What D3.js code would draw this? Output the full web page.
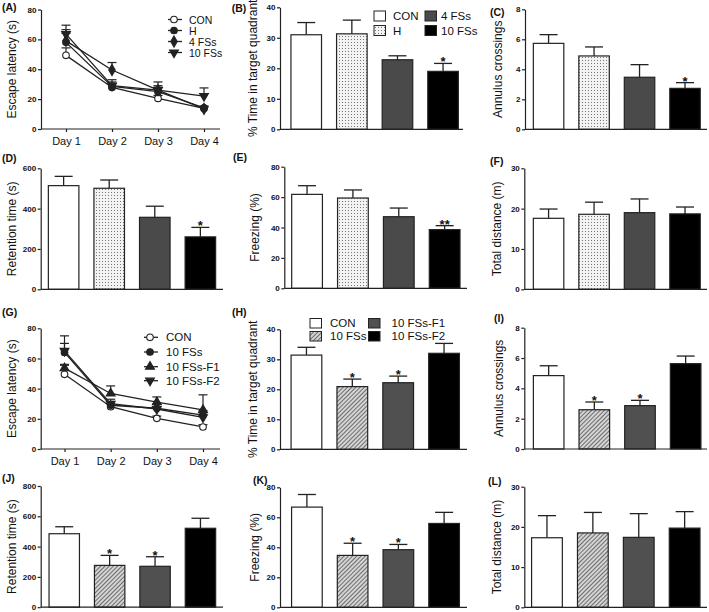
<!DOCTYPE html>
<html><head><meta charset="utf-8">
<script src="https://cdn.jsdelivr.net/npm/d3@7"></script>
<style>body{margin:0;background:#fff}svg{display:block;font-family:"Liberation Sans",Arial,sans-serif}</style>
</head><body><svg id="c" width="709" height="612"></svg>
<script>
// ---------- DATA ----------
const days = ["Day 1","Day 2","Day 3","Day 4"];
const groupsTop = ["CON","H","4 FSs","10 FSs"];
const groupsBot = ["CON","10 FSs","10 FSs-F1","10 FSs-F2"];

// (A) escape latency
const latA_CON = [49.3, 27.8, 20.5, 13.8], latA_CON_err = [5, 2.5, 2, 1.2];
const latA_H = [58, 28.5, 25, 14.2],       latA_H_err = [6, 3, 3, 1.2];
const latA_4FS = [59, 39.5, 26, 13.5],     latA_4FS_err = [7.5, 5, 5.5, 1.2];
const latA_10FS = [63.5, 29, 26, 22],      latA_10FS_err = [6, 4, 3, 5.5];
// (G) escape latency
const latG_CON = [49.5, 28, 20.3, 14.6],   latG_CON_err = [6, 2, 1.5, 1.5];
const latG_10FS = [64, 29, 27, 22.5],      latG_10FS_err = [6, 2.5, 3, 3];
const latG_F1 = [53.6, 36.8, 31, 25.9],    latG_F1_err = [2.5, 5, 3.5, 10];
const latG_F2 = [65, 30, 26.5, 21],        latG_F2_err = [10, 3, 3, 3];

// Bars, top group order: CON, H, 4 FSs, 10 FSs
const B_mean = [31, 31.3, 22.8, 19],     B_err = [4, 4.5, 1.3, 2.6],    B_sig = ["","","","*"];
const C_mean = [5.73, 4.89, 3.47, 2.73], C_err = [0.58, 0.6, 0.84, 0.38], C_sig = ["","","","*"];
const D_mean = [514, 501, 357, 260],     D_err = [46, 41, 55, 47],      D_sig = ["","","","*"];
const E_mean = [61.8, 59.4, 47.1, 38.6], E_err = [5.7, 5.3, 5.7, 2.6],  E_sig = ["","","","**"];
const F_mean = [17.6, 18.6, 19.0, 18.7], F_err = [2.3, 3.0, 3.4, 1.7],  F_sig = ["","","",""];
// Bars, bottom group order: CON, 10 FSs, 10 FSs-F1, 10 FSs-F2
const H_mean = [31.4, 20.9, 22.2, 32],   H_err = [2.6, 2.5, 2.2, 3.3],  H_sig = ["","*","*",""];
const I_mean = [4.84, 2.59, 2.86, 5.63], I_err = [0.65, 0.51, 0.35, 0.5], I_sig = ["","*","*",""];
const J_mean = [485, 276, 270, 521],     J_err = [46, 66, 63, 66],      J_sig = ["","*","*",""];
const K_mean = [66.8, 34.6, 38.4, 55.9], K_err = [8.4, 8.1, 3.5, 7.4],  K_sig = ["","*","*",""];
const L_mean = [17.3, 18.5, 17.4, 19.7], L_err = [5.5, 5.1, 5.9, 4.1],  L_sig = ["","","",""];

// ---------- STYLE ----------
const fillsTop = ["#ffffff","url(#dots)","#4a4a4a","#000000"];
const fillsBot = ["#ffffff","url(#hatch)","#505050","#000000"];
const INK = "#222";
const svg = d3.select("#c");
const defs = svg.append("defs");
const pd = defs.append("pattern").attr("id","dots").attr("patternUnits","userSpaceOnUse").attr("width",3).attr("height",3);
pd.append("rect").attr("width",3).attr("height",3).attr("fill","#f3f3f3");
pd.append("rect").attr("width",1).attr("height",1).attr("fill","#777");
const ph = defs.append("pattern").attr("id","hatch").attr("patternUnits","userSpaceOnUse").attr("width",3).attr("height",3).attr("patternTransform","rotate(45)");
ph.append("rect").attr("width",3).attr("height",3).attr("fill","#d4d4d4");
ph.append("line").attr("x1",0).attr("y1",0).attr("x2",0).attr("y2",3).attr("stroke","#4a4a4a").attr("stroke-width",1.5);

function yAxis(L, y){
  const g = svg.append("g").attr("transform",`translate(${L.ax},0)`)
    .call(d3.axisLeft(y).tickValues(L.ticks).tickSize(3).tickSizeOuter(0).tickPadding(1.5));
  g.selectAll("path,line").attr("stroke",INK).attr("stroke-width",1.2);
  g.selectAll("text").attr("font-size",8).attr("font-weight","bold").attr("fill","#111")
    .attr("font-family","Liberation Sans, Arial, sans-serif");
  svg.append("line").attr("x1",L.ax).attr("x2",L.axEnd).attr("y1",y(0)).attr("y2",y(0))
    .attr("stroke",INK).attr("stroke-width",1.2);
  const cy = (L.top+L.bot)/2;
  svg.append("text").attr("transform",`translate(${L.tx},${cy}) rotate(-90)`)
    .attr("text-anchor","middle").attr("dominant-baseline","central")
    .attr("font-size",12).attr("fill","#111").text(L.title);
  svg.append("text").attr("x",L.lx).attr("y",L.ly).attr("font-size",10.5)
    .attr("font-weight","bold").attr("fill","#111").text(L.label);
}

function barPanel(L, groups, means, errs, sigs, fills){
  const y = d3.scaleLinear().domain([0,L.max]).range([L.bot,L.top]);
  const x = d3.scaleBand().domain(groups).range(L.xr).paddingInner(0.33).paddingOuter(0.1);
  const g = svg.append("g");
  groups.forEach((k,i)=>{
    const cx = x(k)+x.bandwidth()/2;
    const capY = y(means[i]+errs[i]);
    g.append("line").attr("x1",cx).attr("x2",cx).attr("y1",y(means[i])).attr("y2",capY)
      .attr("stroke",INK).attr("stroke-width",1.3);
    g.append("line").attr("x1",cx-9).attr("x2",cx+9).attr("y1",capY).attr("y2",capY)
      .attr("stroke",INK).attr("stroke-width",1.3);
    g.append("rect").attr("x",x(k)).attr("y",y(means[i])).attr("width",x.bandwidth())
      .attr("height",y(0)-y(means[i])).attr("fill",fills[i]).attr("stroke",INK).attr("stroke-width",1.2);
    if(sigs[i]) g.append("text").attr("x",cx).attr("y",capY+3).attr("text-anchor","middle")
      .attr("font-size",13).attr("font-weight","bold").attr("fill","#111").text(sigs[i]);
  });
  yAxis(L,y);
}

function linePanel(L, series){
  const y = d3.scaleLinear().domain([0,L.max]).range([L.bot,L.top]);
  const x = d3.scalePoint().domain(days).range(L.xr);
  yAxis(L,y);
  const gx = svg.append("g").attr("transform",`translate(0,${L.bot})`)
    .call(d3.axisBottom(x).tickSize(3).tickSizeOuter(0).tickPadding(5));
  gx.select(".domain").remove();
  gx.selectAll("line").attr("stroke",INK).attr("stroke-width",1.2);
  gx.selectAll("text").attr("font-size",11).attr("fill","#111")
    .attr("font-family","Liberation Sans, Arial, sans-serif");
  const line = d3.line().x((d,i)=>x(days[i])).y(d=>y(d));
  series.forEach(s=>{
    svg.append("path").attr("d",line(s.v)).attr("fill","none").attr("stroke",INK).attr("stroke-width",1.3);
  });
  series.forEach(s=>{
    s.v.forEach((v,i)=>{
      const cx = x(days[i]), t = y(v+s.e[i]);
      svg.append("line").attr("x1",cx).attr("x2",cx).attr("y1",y(v)).attr("y2",t).attr("stroke",INK).attr("stroke-width",1.2);
      svg.append("line").attr("x1",cx-4.5).attr("x2",cx+4.5).attr("y1",t).attr("y2",t).attr("stroke",INK).attr("stroke-width",1.2);
    });
  });
  series.forEach(s=>{
    s.v.forEach((v,i)=>marker(s.m, x(days[i]), y(v)));
  });
  series.forEach((s,i)=>{
    const yy = L.legY[i];
    svg.append("line").attr("x1",L.legX).attr("x2",L.legX+14).attr("y1",yy).attr("y2",yy).attr("stroke",INK).attr("stroke-width",1.3);
    marker(s.m, L.legX+6, yy);
    svg.append("text").attr("x",L.legTX).attr("y",yy).attr("dominant-baseline","central")
      .attr("font-size",L.legFS).attr("fill","#111").text(s.name);
  });
}

function marker(type, cx, cy){
  let sym, rot=0, fill=INK;
  if(type==="open"){sym=d3.symbolCircle; fill="#fff";}
  else if(type==="circle") sym=d3.symbolCircle;
  else if(type==="diamond") sym=d3.symbolDiamond;
  else if(type==="tri") sym=d3.symbolTriangle;
  else {sym=d3.symbolTriangle; rot=180;}
  svg.append("path").attr("d",d3.symbol().type(sym).size(type==="diamond"?36:34)())
    .attr("transform",`translate(${cx},${cy}) rotate(${rot})`)
    .attr("fill",fill).attr("stroke",INK).attr("stroke-width",1.1);
}

function barLegend(items, fills, boxes, texts, bw, bh){
  items.forEach((k,i)=>{
    svg.append("rect").attr("x",boxes[i][0]).attr("y",boxes[i][1]).attr("width",bw).attr("height",bh)
      .attr("fill",fills[i]).attr("stroke",INK).attr("stroke-width",1);
    svg.append("text").attr("x",texts[i][0]).attr("y",boxes[i][1]+bh/2).attr("dominant-baseline","central")
      .attr("font-size",11.5).attr("fill","#111").text(k);
  });
}

// ---------- LAYOUT ----------
const LA = {ax:41, axEnd:220, top:9.5, bot:129, xr:[66,204], max:80, ticks:[0,20,40,60,80],
  title:"Escape latency (s)", tx:12.3, label:"(A)", lx:2, ly:11,
  legX:168, legTX:189, legY:[19.5,30.5,41.5,52.5], legFS:10.5};
const LG = {ax:40.7, axEnd:220, top:328.3, bot:449, xr:[64.5,203], max:80, ticks:[0,20,40,60,80],
  title:"Escape latency (s)", tx:12.3, label:"(G)", lx:2, ly:315.5,
  legX:144, legTX:166, legY:[337.3,352,366.7,380.7], legFS:11.5};
const LBp = {ax:280, axEnd:463, top:7.3, bot:129.3, xr:[286.4,462.9], max:40, ticks:[0,10,20,30,40],
  title:"% Time in target quadrant", tx:253.3, label:"(B)", lx:231.7, ly:12};
const LC = {ax:525, axEnd:707, top:9.3, bot:129.3, xr:[528.8,704.8], max:8, ticks:[0,2,4,6,8],
  title:"Annulus crossings", tx:498.3, label:"(C)", lx:490, ly:16};
const LD = {ax:40.7, axEnd:223, top:168.3, bot:289.3, xr:[43.8,220.2], max:600, ticks:[0,200,400,600],
  title:"Retention time (s)", tx:11.7, label:"(D)", lx:2, ly:162};
const LE = {ax:284.3, axEnd:467, top:166.7, bot:288.3, xr:[287.1,464.6], max:80, ticks:[0,20,40,60,80],
  title:"Freezing (%)", tx:255, label:"(E)", lx:233, ly:160.5};
const LF = {ax:524.3, axEnd:707, top:168.3, bot:289.3, xr:[528.8,704.8], max:30, ticks:[0,10,20,30],
  title:"Total distance (m)", tx:496.7, label:"(F)", lx:490, ly:165};
const LH = {ax:280, axEnd:467, top:329.3, bot:449.3, xr:[286.5,464], max:40, ticks:[0,10,20,30,40],
  title:"% Time in target quadrant", tx:253.3, label:"(H)", lx:232, ly:315.5};
const LI = {ax:524.3, axEnd:707, top:327.7, bot:449, xr:[528.8,705.5], max:8, ticks:[0,2,4,6,8],
  title:"Annulus crossings", tx:498.5, label:"(I)", lx:494, ly:322};
const LJ = {ax:40.7, axEnd:223, top:486, bot:607.2, xr:[44.5,220.2], max:800, ticks:[0,200,400,600,800],
  title:"Retention time (s)", tx:11.7, label:"(J)", lx:2, ly:481.5};
const LK = {ax:280, axEnd:467, top:487.3, bot:607.3, xr:[287,464], max:80, ticks:[0,20,40,60,80],
  title:"Freezing (%)", tx:255, label:"(K)", lx:253, ly:484};
const LL = {ax:524.3, axEnd:707, top:486.7, bot:607.3, xr:[527,704.6], max:30, ticks:[0,10,20,30],
  title:"Total distance (m)", tx:496.7, label:"(L)", lx:488, ly:485};

// ---------- DRAW ----------
linePanel(LA, [
  {name:"CON", v:latA_CON, e:latA_CON_err, m:"open"},
  {name:"H", v:latA_H, e:latA_H_err, m:"circle"},
  {name:"4 FSs", v:latA_4FS, e:latA_4FS_err, m:"diamond"},
  {name:"10 FSs", v:latA_10FS, e:latA_10FS_err, m:"tridown"}]);
linePanel(LG, [
  {name:"CON", v:latG_CON, e:latG_CON_err, m:"open"},
  {name:"10 FSs", v:latG_10FS, e:latG_10FS_err, m:"circle"},
  {name:"10 FSs-F1", v:latG_F1, e:latG_F1_err, m:"tri"},
  {name:"10 FSs-F2", v:latG_F2, e:latG_F2_err, m:"tridown"}]);

barPanel(LBp, groupsTop, B_mean, B_err, B_sig, fillsTop);
barPanel(LC, groupsTop, C_mean, C_err, C_sig, fillsTop);
barPanel(LD, groupsTop, D_mean, D_err, D_sig, fillsTop);
barPanel(LE, groupsTop, E_mean, E_err, E_sig, fillsTop);
barPanel(LF, groupsTop, F_mean, F_err, F_sig, fillsTop);
barPanel(LH, groupsBot, H_mean, H_err, H_sig, fillsBot);
barPanel(LI, groupsBot, I_mean, I_err, I_sig, fillsBot);
barPanel(LJ, groupsBot, J_mean, J_err, J_sig, fillsBot);
barPanel(LK, groupsBot, K_mean, K_err, K_sig, fillsBot);
barPanel(LL, groupsBot, L_mean, L_err, L_sig, fillsBot);

barLegend(groupsTop, fillsTop, [[374,11],[374,25.5],[425,11],[425,25.5]], [[393],[393],[441],[441]], 11.5, 10);
barLegend(groupsBot, fillsBot, [[310,318.5],[310,331.5],[368.5,318.5],[368.5,331.5]], [[330],[330],[391.5],[391.5]], 11.5, 9.5);
</script></body></html>
